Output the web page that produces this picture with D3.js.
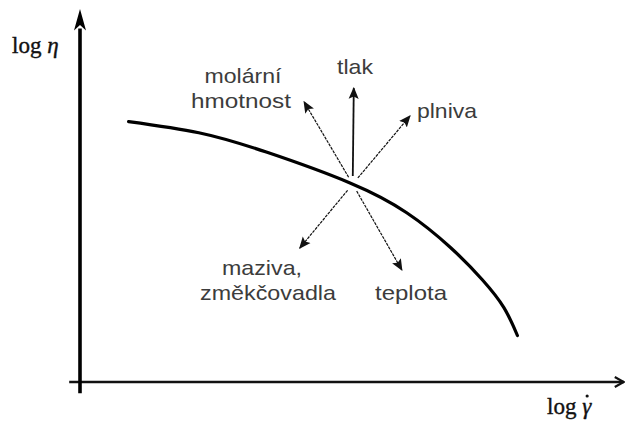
<!DOCTYPE html>
<html>
<head>
<meta charset="utf-8">
<script src="https://cdn.jsdelivr.net/npm/d3@7"></script>
<style>
  html, body { margin: 0; padding: 0; background: #fff; }
  svg { display: block; }
</style>
</head>
<body>
<svg id="chart" width="625" height="423"></svg>
<script>
// Flow curve: log viscosity against log shear rate (arbitrary units)
const logShearRate = [0.9, 2.2, 3.45, 5.0, 6.05, 6.85, 7.45, 7.85, 8.1];
const logViscosity = [7.0, 6.7, 6.18, 5.35, 4.55, 3.63, 2.75, 2.0, 1.25];

// Influence arrows leaving the curve point (5.05, 5.32)
const influenceOrigin = [5.05, 5.32];
const influenceNames = ["molární hmotnost", "tlak", "plniva", "maziva, změkčovadla", "teplota"];
const influenceTipX = [4.15, 5.07, 6.11, 4.07, 5.96];
const influenceTipY = [7.53, 7.90, 7.15, 3.60, 3.01];

// Axis titles
const axisTitleX = "log";
const axisTitleY = "log";

const svg = d3.select("#chart");
const x = d3.scaleLinear().domain([0, 10]).range([80, 620]);
const y = d3.scaleLinear().domain([0, 10]).range([382, 10]);

const defs = svg.append("defs");
defs.append("marker")
  .attr("id", "head")
  .attr("viewBox", "0 0 10 10")
  .attr("refX", 9).attr("refY", 5)
  .attr("markerWidth", 12).attr("markerHeight", 12)
  .attr("markerUnits", "userSpaceOnUse")
  .attr("orient", "auto")
  .append("path")
  .attr("d", "M0,0.8 L10,5 L0,9.2 L2,5 Z")
  .attr("fill", "#111");

// Axes
svg.append("line")
  .attr("x1", x(-0.2)).attr("x2", x(10.07))
  .attr("y1", y(0)).attr("y2", y(0))
  .attr("stroke", "#111").attr("stroke-width", 2.6);
svg.append("path")
  .attr("d", `M${x(10.07) - 9},${y(0) - 5} L${x(10.07)},${y(0)} L${x(10.07) - 9},${y(0) + 5}`)
  .attr("fill", "none").attr("stroke", "#111").attr("stroke-width", 2.2);

svg.append("line")
  .attr("x1", x(0)).attr("x2", x(0))
  .attr("y1", y(-0.3)).attr("y2", y(9.5))
  .attr("stroke", "#000").attr("stroke-width", 3.6);
svg.append("path")
  .attr("d", `M${x(0)},${y(10.03)} L${x(0) + 6},${y(9.45)} L${x(0)},${y(9.6)} L${x(0) - 6},${y(9.45)} Z`)
  .attr("fill", "#000");

// Axis titles
const serif = "'Liberation Serif', 'Times New Roman', serif";
const ty = svg.append("text")
  .attr("x", 12).attr("y", 53)
  .attr("font-family", serif)
  .attr("font-size", 23).attr("fill", "#111")
  .attr("stroke", "#111").attr("stroke-width", 0.4);
ty.append("tspan").text(axisTitleY + " ");
ty.append("tspan").attr("font-style", "italic").text("η");

const tx = svg.append("text")
  .attr("x", 547).attr("y", 414)
  .attr("font-family", serif)
  .attr("font-size", 23).attr("fill", "#111")
  .attr("stroke", "#111").attr("stroke-width", 0.4);
tx.append("tspan").text(axisTitleX + " ");
const gamma = tx.append("tspan").attr("font-style", "italic").text("γ");
// dot above gamma (time derivative)
const gb = gamma.node().getBBox ? tx.node().getBBox() : null;
svg.append("circle")
  .attr("cx", gb ? gb.x + gb.width - 5 : 598)
  .attr("cy", 396)
  .attr("r", 1.6)
  .attr("fill", "#111");

// Flow curve
const pts = logShearRate.map((v, i) => [x(v), y(logViscosity[i])]);
svg.append("path")
  .attr("d", d3.line().curve(d3.curveNatural)(pts))
  .attr("fill", "none").attr("stroke", "#000").attr("stroke-width", 3.2)
  .attr("stroke-linecap", "round");

// Influence arrows
const ox = x(influenceOrigin[0]), oy = y(influenceOrigin[1]);
influenceNames.forEach((name, i) => {
  const tx2 = x(influenceTipX[i]), ty2 = y(influenceTipY[i]);
  const dx = tx2 - ox, dy = ty2 - oy, len = Math.hypot(dx, dy);
  const gap = 8;
  svg.append("line")
    .attr("x1", ox + dx / len * gap).attr("y1", oy + dy / len * gap)
    .attr("x2", tx2).attr("y2", ty2)
    .attr("stroke", "#111")
    .attr("stroke-width", name === "tlak" ? 1.8 : 1.2)
    .attr("stroke-dasharray", name === "tlak" ? null : "3,1")
    .attr("marker-end", "url(#head)");
});

// Arrow labels
const labelFont = "'Liberation Sans', Arial, sans-serif";
const labelLines = [
  { t: "molární", x: 243, y: 83, w: 77 },
  { t: "hmotnost", x: 241, y: 108, w: 100 },
  { t: "tlak", x: 355, y: 74, w: 36 },
  { t: "plniva", x: 447, y: 118, w: 60 },
  { t: "maziva,", x: 262, y: 275, w: 80 },
  { t: "změkčovadla", x: 268, y: 300, w: 136 },
  { t: "teplota", x: 411, y: 300, w: 72 }
];
svg.selectAll("text.lbl")
  .data(labelLines)
  .join("text")
  .attr("class", "lbl")
  .attr("x", d => d.x).attr("y", d => d.y)
  .attr("text-anchor", "middle")
  .attr("font-family", labelFont)
  .attr("font-size", 21)
  .attr("fill", "#3c3c3c")
  .attr("textLength", d => d.w)
  .attr("lengthAdjust", "spacingAndGlyphs")
  .text(d => d.t);
</script>
</body>
</html>
